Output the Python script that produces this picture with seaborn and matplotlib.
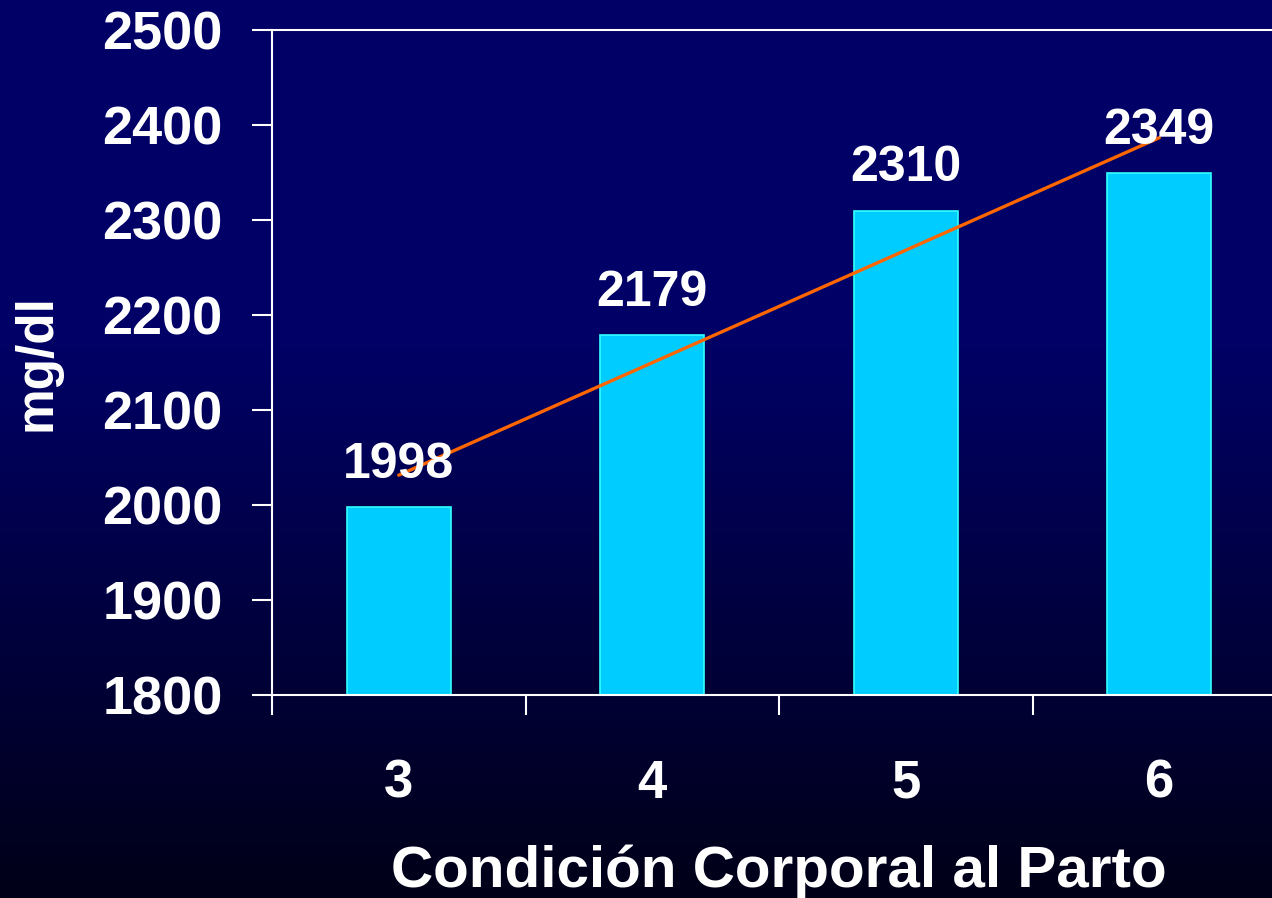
import numpy as np
import matplotlib
matplotlib.use('Agg')
import matplotlib.pyplot as plt
from matplotlib.colors import LinearSegmentedColormap
import seaborn as sns
import pandas as pd

# datos
categorias = ['3', '4', '5', '6']
valores = [1998, 2179, 2310, 2349]
y_ticks = [1800, 1900, 2000, 2100, 2200, 2300, 2400, 2500]

sns.set_style('white')
plt.rcParams['font.family'] = ['Liberation Sans', 'DejaVu Sans']
plt.rcParams['font.weight'] = 'bold'

W, H = 1272, 898
fig = plt.figure(figsize=(W / 100, H / 100), dpi=100)

# fondo degradado azul marino -> negro
bg = fig.add_axes([0, 0, 1, 1], zorder=-10)
cmap = LinearSegmentedColormap.from_list(
    'fondo', [(0, '#000066'), (0.38, '#000066'), (1, '#000018')])
grad = np.linspace(0, 1, 256).reshape(-1, 1)
bg.imshow(grad, aspect='auto', cmap=cmap, extent=[0, 1, 1, 0])
bg.set_axis_off()

x0, x1 = 272 / W, 1286 / W
y0, y1 = 1 - 695 / H, 1 - 30 / H
ax = fig.add_axes([x0, y0, x1 - x0, y1 - y0])
ax.set_facecolor('none')

df = pd.DataFrame({'cc': categorias, 'mg': valores})
sns.barplot(data=df, x='cc', y='mg', ax=ax, color='#00CCFF',
            saturation=1, width=0.41, edgecolor='#33FFFF', linewidth=1.2)

# linea de tendencia lineal
xs = np.arange(len(valores))
m, b = np.polyfit(xs, valores, 1)
ax.plot([xs[0], xs[-1]], [m * xs[0] + b, m * xs[-1] + b],
        color='#FF6600', lw=2.4, zorder=5)

for i, v in enumerate(valores):
    ax.annotate(str(v), (i, v), xytext=(0, 21), textcoords='offset points',
                ha='center', va='baseline', color='white',
                fontsize=36, fontweight='bold', zorder=6)

ax.set_xlim(-0.5, 3.5)
ax.set_ylim(1800, 2500)
ax.set_yticks(y_ticks)
ax.set_yticklabels([str(t) for t in y_ticks])
ax.set_xticks(xs)
ax.set_xticklabels(categorias)
ax.set_xticks([-0.5, 0.5, 1.5, 2.5], minor=True)

for s in ['left', 'bottom', 'top']:
    ax.spines[s].set_color('white')
    ax.spines[s].set_linewidth(1.5)
ax.spines['right'].set_visible(False)

ax.tick_params(axis='y', which='major', left=True, direction='out',
               length=14.4, width=1.5, color='white', pad=21,
               labelsize=39, labelcolor='white')
ax.tick_params(axis='x', which='major', bottom=True, length=0, pad=46,
               labelsize=38, labelcolor='white')
ax.tick_params(axis='x', which='minor', bottom=True, direction='out',
               length=14.4, width=1.5, color='white')
for lab in ax.get_xticklabels() + ax.get_yticklabels():
    lab.set_fontweight('bold')

ax.set_xlabel('Condición Corporal al Parto', fontsize=42,
              fontweight='bold', color='white')
ax.xaxis.set_label_coords(0.5, -0.225)
ax.set_ylabel('mg/dl', fontsize=37, fontweight='bold', color='white')
ax.yaxis.set_label_coords(-0.208, 0.5)

fig.savefig('out.png', dpi=100)
